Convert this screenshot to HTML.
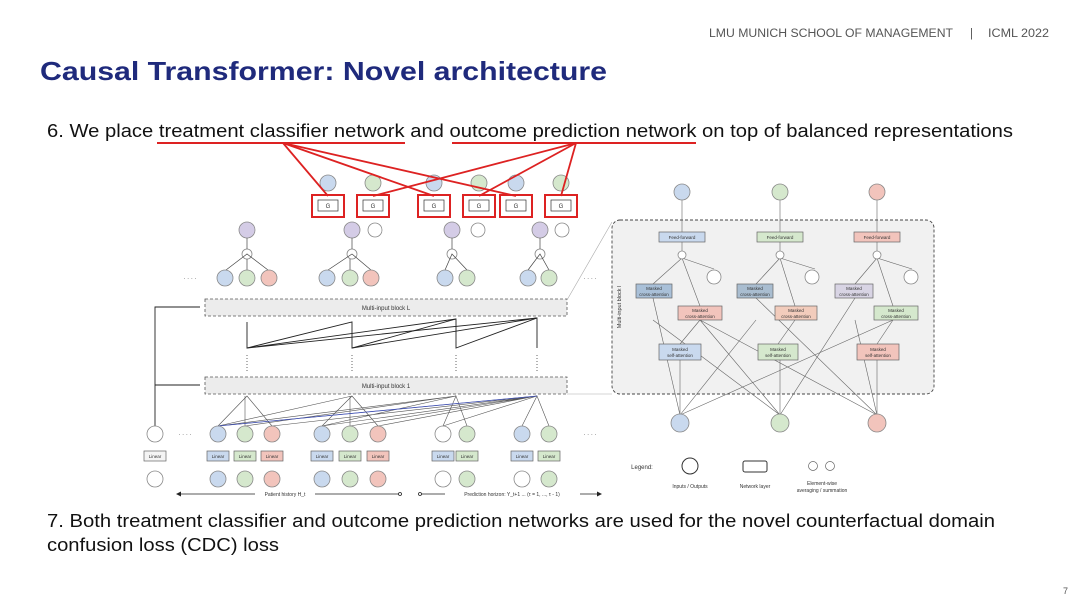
<!DOCTYPE html>
<html><head><meta charset="utf-8"><style>
html,body{margin:0;padding:0;background:#fff;}
svg{display:block;font-family:"Liberation Sans",sans-serif;}
</style></head><body>
<svg width="1080" height="607" viewBox="0 0 1080 607" xmlns="http://www.w3.org/2000/svg">
<rect width="1080" height="607" fill="#fff"/>
<text x="709" y="37" font-size="11.5" fill="#555" textLength="244" lengthAdjust="spacingAndGlyphs">LMU MUNICH SCHOOL OF MANAGEMENT</text>
<text x="970" y="37" font-size="11.5" fill="#555">|</text>
<text x="988" y="37" font-size="11.5" fill="#555" textLength="61" lengthAdjust="spacingAndGlyphs">ICML 2022</text>
<text x="40" y="80" font-size="26" font-weight="bold" fill="#1f2a7c" textLength="567" lengthAdjust="spacingAndGlyphs">Causal Transformer: Novel architecture</text>
<text x="47" y="137" font-size="18" fill="#111" textLength="966" lengthAdjust="spacingAndGlyphs">6. We place treatment classifier network and outcome prediction network on top of balanced representations</text>
<line x1="157" y1="143" x2="405" y2="143" stroke="#d22" stroke-width="2"/>
<line x1="452" y1="143" x2="696" y2="143" stroke="#d22" stroke-width="2"/>
<text x="47" y="527" font-size="18" fill="#111" textLength="948" lengthAdjust="spacingAndGlyphs">7. Both treatment classifier and outcome prediction networks are used for the novel counterfactual domain</text>
<text x="47" y="551" font-size="18" fill="#111" textLength="232" lengthAdjust="spacingAndGlyphs">confusion loss (CDC) loss</text>
<text x="1063" y="594" font-size="9" fill="#555">7</text>

<g font-size="6" text-anchor="middle" fill="#333">
<!-- top circles -->
<g stroke="#888" stroke-width="0.8">
<circle cx="328" cy="183" r="8" fill="#c9d9ee"/><circle cx="373" cy="183" r="8" fill="#d5e8cd"/>
<circle cx="434" cy="183" r="8" fill="#c9d9ee"/><circle cx="479" cy="183" r="8" fill="#d5e8cd"/>
<circle cx="516" cy="183" r="8" fill="#c9d9ee"/><circle cx="561" cy="183" r="8" fill="#d5e8cd"/>
</g>
<!-- G boxes -->
<g stroke="#d22" stroke-width="2" fill="#fff">
<rect x="312" y="195" width="32" height="22"/><rect x="357" y="195" width="32" height="22"/>
<rect x="418" y="195" width="32" height="22"/><rect x="463" y="195" width="32" height="22"/>
<rect x="500" y="195" width="32" height="22"/><rect x="545" y="195" width="32" height="22"/>
</g>
<g stroke="#333" stroke-width="0.7" fill="#fff">
<rect x="318" y="200" width="20" height="11"/><rect x="363" y="200" width="20" height="11"/>
<rect x="424" y="200" width="20" height="11"/><rect x="469" y="200" width="20" height="11"/>
<rect x="506" y="200" width="20" height="11"/><rect x="551" y="200" width="20" height="11"/>
</g>
<text x="328" y="208">G</text><text x="373" y="208">G</text><text x="434" y="208">G</text><text x="479" y="208">G</text><text x="516" y="208">G</text><text x="561" y="208">G</text>
<!-- red lines -->
<g stroke="#d22" stroke-width="1.8" fill="none">
<line x1="283" y1="143" x2="328" y2="196"/><line x1="283" y1="143" x2="434" y2="196"/><line x1="283" y1="143" x2="516" y2="196"/>
<line x1="576" y1="143" x2="373" y2="196"/><line x1="576" y1="143" x2="479" y2="196"/><line x1="576" y1="143" x2="561" y2="196"/>
</g>
<!-- representation circles -->
<g stroke="#888" stroke-width="0.8">
<circle cx="247" cy="230" r="8" fill="#d4cce6"/><circle cx="352" cy="230" r="8" fill="#d4cce6"/><circle cx="375" cy="230" r="7" fill="#fff"/>
<circle cx="452" cy="230" r="8" fill="#d4cce6"/><circle cx="478" cy="230" r="7" fill="#fff"/>
<circle cx="540" cy="230" r="8" fill="#d4cce6"/><circle cx="562" cy="230" r="7" fill="#fff"/>
<circle cx="247" cy="254" r="5" fill="#fff"/><circle cx="352" cy="254" r="5" fill="#fff"/><circle cx="452" cy="254" r="5" fill="#fff"/><circle cx="540" cy="254" r="5" fill="#fff"/>
</g>
<g stroke="#444" stroke-width="0.7" fill="none">
<path d="M247 238V249M226 270L247 254L268 270M247 270V259"/>
<path d="M352 238V249M328 270L352 254L371 270M350 270V259"/>
<path d="M452 238V249M445 270L452 254L467 270"/>
<path d="M540 238V249M528 270L540 254L549 270"/>
</g>
<g stroke="#888" stroke-width="0.8">
<circle cx="225" cy="278" r="8" fill="#c9d9ee"/><circle cx="247" cy="278" r="8" fill="#d5e8cd"/><circle cx="269" cy="278" r="8" fill="#f2c4bc"/>
<circle cx="327" cy="278" r="8" fill="#c9d9ee"/><circle cx="350" cy="278" r="8" fill="#d5e8cd"/><circle cx="371" cy="278" r="8" fill="#f2c4bc"/>
<circle cx="445" cy="278" r="8" fill="#c9d9ee"/><circle cx="467" cy="278" r="8" fill="#d5e8cd"/>
<circle cx="528" cy="278" r="8" fill="#c9d9ee"/><circle cx="549" cy="278" r="8" fill="#d5e8cd"/>
</g>
<text x="190" y="280">· · · ·</text><text x="590" y="280">· · · ·</text>
<!-- multi-input blocks -->
<rect x="205" y="299" width="362" height="17" fill="#ececec" stroke="#555" stroke-dasharray="3,2" stroke-width="0.8"/>
<text x="386" y="310">Multi-input block L</text>
<rect x="205" y="377" width="362" height="17" fill="#ececec" stroke="#555" stroke-dasharray="3,2" stroke-width="0.8"/>
<text x="386" y="388">Multi-input block 1</text>
<g stroke="#222" stroke-width="0.9" fill="none">
<path d="M247 322V348L352 322V348L456 319V348L537 318V348"/>
<path d="M247 348L456 319M247 348L537 318M352 348L537 318"/>
</g>
<g stroke="#666" stroke-dasharray="1,2"><line x1="247" y1="355" x2="247" y2="372"/><line x1="352" y1="355" x2="352" y2="372"/><line x1="456" y1="355" x2="456" y2="372"/><line x1="537" y1="355" x2="537" y2="372"/></g>
<!-- lower fan lines -->
<g stroke="#555" stroke-width="0.6" fill="none">
<path d="M218 426L247 396L272 426M245 426V396"/>
<path d="M322 426L352 396L378 426M350 426V396"/>
<path d="M443 426L456 396L467 426M522 426L537 396L549 426"/>
<path d="M218 426L352 396M218 426L456 396M218 426L537 396M245 426L456 396M272 426L537 396M322 426L456 396M322 426L537 396M350 426L537 396M378 426L537 396M443 426L537 396"/>
</g>
<line x1="218" y1="426" x2="537" y2="396" stroke="#4455bb" stroke-width="0.8"/>
<!-- left path -->
<g stroke="#222" stroke-width="0.9" fill="none"><path d="M155 426V307H200M155 385H200"/></g>
<!-- bottom rows -->
<g stroke="#888" stroke-width="0.8">
<circle cx="155" cy="434" r="8" fill="#fff"/><circle cx="155" cy="479" r="8" fill="#fff"/>
<circle cx="218" cy="434" r="8" fill="#c9d9ee"/><circle cx="245" cy="434" r="8" fill="#d5e8cd"/><circle cx="272" cy="434" r="8" fill="#f2c4bc"/>
<circle cx="322" cy="434" r="8" fill="#c9d9ee"/><circle cx="350" cy="434" r="8" fill="#d5e8cd"/><circle cx="378" cy="434" r="8" fill="#f2c4bc"/>
<circle cx="443" cy="434" r="8" fill="#fff"/><circle cx="467" cy="434" r="8" fill="#d5e8cd"/>
<circle cx="522" cy="434" r="8" fill="#c9d9ee"/><circle cx="549" cy="434" r="8" fill="#d5e8cd"/>
<circle cx="218" cy="479" r="8" fill="#c9d9ee"/><circle cx="245" cy="479" r="8" fill="#d5e8cd"/><circle cx="272" cy="479" r="8" fill="#f2c4bc"/>
<circle cx="322" cy="479" r="8" fill="#c9d9ee"/><circle cx="350" cy="479" r="8" fill="#d5e8cd"/><circle cx="378" cy="479" r="8" fill="#f2c4bc"/>
<circle cx="443" cy="479" r="8" fill="#fff"/><circle cx="467" cy="479" r="8" fill="#d5e8cd"/>
<circle cx="522" cy="479" r="8" fill="#fff"/><circle cx="549" cy="479" r="8" fill="#d5e8cd"/>
</g>
<g stroke="#666" stroke-width="0.7">
<rect x="144" y="451" width="22" height="10" fill="#f4f4f4"/>
<rect x="207" y="451" width="22" height="10" fill="#c9d9ee"/><rect x="234" y="451" width="22" height="10" fill="#d5e8cd"/><rect x="261" y="451" width="22" height="10" fill="#f2c4bc"/>
<rect x="311" y="451" width="22" height="10" fill="#c9d9ee"/><rect x="339" y="451" width="22" height="10" fill="#d5e8cd"/><rect x="367" y="451" width="22" height="10" fill="#f2c4bc"/>
<rect x="432" y="451" width="22" height="10" fill="#c9d9ee"/><rect x="456" y="451" width="22" height="10" fill="#d5e8cd"/>
<rect x="511" y="451" width="22" height="10" fill="#c9d9ee"/><rect x="538" y="451" width="22" height="10" fill="#d5e8cd"/>
</g>
<g font-size="4.5"><text x="155" y="458">Linear</text><text x="218" y="458">Linear</text><text x="245" y="458">Linear</text><text x="272" y="458">Linear</text><text x="322" y="458">Linear</text><text x="350" y="458">Linear</text><text x="378" y="458">Linear</text><text x="443" y="458">Linear</text><text x="467" y="458">Linear</text><text x="522" y="458">Linear</text><text x="549" y="458">Linear</text></g>
<text x="185" y="436">· · · ·</text><text x="590" y="436">· · · ·</text>
<g stroke="#222" stroke-width="0.8" fill="none"><path d="M178 494H400M420 494H600"/><circle cx="400" cy="494" r="1.5" fill="#fff"/><circle cx="420" cy="494" r="1.5" fill="#fff"/></g>
<path d="M176 494l5-2.5v5z M602 494l-5-2.5v5z" fill="#222"/>
<rect x="255" y="490" width="60" height="8" fill="#fff"/><text x="285" y="496" font-size="5">Patient history H_t</text>
<rect x="445" y="490" width="135" height="8" fill="#fff"/><text x="512" y="496" font-size="5">Prediction horizon: Y_t+1 ... (τ = 1, ..., τ - 1)</text>

<!-- right panel -->
<line x1="567" y1="300" x2="612" y2="222" stroke="#aaa" stroke-width="0.6"/><line x1="567" y1="394" x2="612" y2="394" stroke="#aaa" stroke-width="0.6"/>
<rect x="612" y="220" width="322" height="174" rx="8" fill="#f1f1f1" stroke="#444" stroke-dasharray="3,2" stroke-width="0.9"/>
<text x="621" y="307" transform="rotate(-90 621 307)" font-size="5.5">Multi-input block l</text>
<g stroke="#666" stroke-width="0.6" fill="none">
<path d="M680 415L653 298M680 415L756 320M680 415L893 320M780 415L653 320M780 415L855 298M780 415L700 320M877 415L756 298M877 415L700 320M877 415L855 320"/>
<path d="M682 200V232M780 200V232M877 200V232M682 242V252M780 242V252M877 242V252"/>
<path d="M653 284L682 258L700 306M714 269L682 258M756 284L780 258L795 306M815 269L780 258M855 284L877 258L893 306M912 269L877 258"/>
<path d="M680 415V360M780 415V360M877 415V360M680 344L700 320M778 344L795 320M877 344L893 320"/>
</g>
<g stroke="#888" stroke-width="0.8">
<circle cx="682" cy="192" r="8" fill="#c9d9ee"/><circle cx="780" cy="192" r="8" fill="#d5e8cd"/><circle cx="877" cy="192" r="8" fill="#f2c4bc"/>
<circle cx="682" cy="255" r="4" fill="#fff"/><circle cx="780" cy="255" r="4" fill="#fff"/><circle cx="877" cy="255" r="4" fill="#fff"/>
<circle cx="714" cy="277" r="7" fill="#fff"/><circle cx="812" cy="277" r="7" fill="#fff"/><circle cx="911" cy="277" r="7" fill="#fff"/>
<circle cx="680" cy="423" r="9" fill="#c9d9ee"/><circle cx="780" cy="423" r="9" fill="#d5e8cd"/><circle cx="877" cy="423" r="9" fill="#f2c4bc"/>
</g>
<g stroke="#666" stroke-width="0.7">
<rect x="659" y="232" width="46" height="10" fill="#c9d9ee"/><rect x="757" y="232" width="46" height="10" fill="#d5e8cd"/><rect x="854" y="232" width="46" height="10" fill="#f2c4bc"/>
<rect x="636" y="284" width="36" height="14" fill="#a9c0d8"/><rect x="737" y="284" width="36" height="14" fill="#a9bdd0"/><rect x="835" y="284" width="38" height="14" fill="#d8d4e4"/>
<rect x="678" y="306" width="44" height="14" fill="#f2c4bc"/><rect x="775" y="306" width="42" height="14" fill="#f2ccbc"/><rect x="874" y="306" width="44" height="14" fill="#d5e8cd"/>
<rect x="659" y="344" width="42" height="16" fill="#c9d9ee"/><rect x="758" y="344" width="40" height="16" fill="#d5e8cd"/><rect x="857" y="344" width="42" height="16" fill="#f2c4bc"/>
</g>
<g font-size="4.5"><text x="682" y="239">Feed-forward</text><text x="780" y="239">Feed-forward</text><text x="877" y="239">Feed-forward</text>
<text x="654" y="290">Masked</text><text x="654" y="296">cross-attention</text><text x="755" y="290">Masked</text><text x="755" y="296">cross-attention</text><text x="854" y="290">Masked</text><text x="854" y="296">cross-attention</text>
<text x="700" y="312">Masked</text><text x="700" y="318">cross-attention</text><text x="796" y="312">Masked</text><text x="796" y="318">cross-attention</text><text x="896" y="312">Masked</text><text x="896" y="318">cross-attention</text>
<text x="680" y="351">Masked</text><text x="680" y="357">self-attention</text><text x="778" y="351">Masked</text><text x="778" y="357">self-attention</text><text x="878" y="351">Masked</text><text x="878" y="357">self-attention</text></g>
<!-- legend -->
<text x="642" y="469" font-size="6">Legend:</text>
<circle cx="690" cy="466" r="8" fill="#fff" stroke="#333" stroke-width="1"/>
<rect x="743" y="461" width="24" height="11" rx="2" fill="#fff" stroke="#333" stroke-width="1"/>
<circle cx="813" cy="466" r="4.5" fill="#fff" stroke="#666" stroke-width="0.7"/><circle cx="830" cy="466" r="4.5" fill="#fff" stroke="#666" stroke-width="0.7"/>
<g font-size="5"><text x="690" y="488">Inputs / Outputs</text><text x="755" y="488">Network layer</text><text x="822" y="485">Element-wise</text><text x="822" y="492">averaging / summation</text></g>
</g>
</svg>
</body></html>
